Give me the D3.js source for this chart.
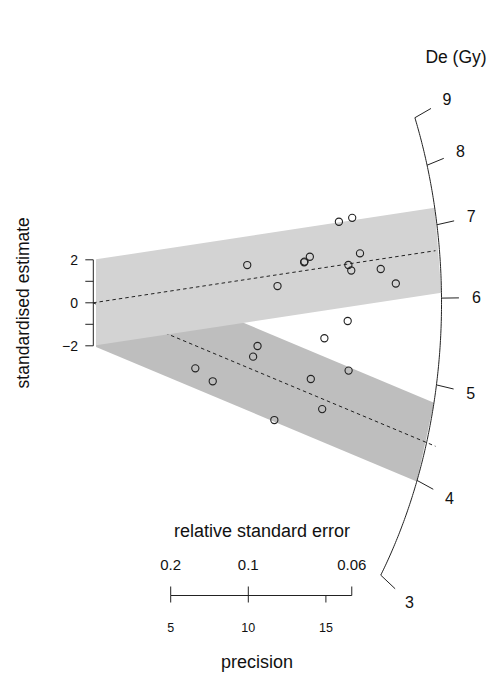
<!DOCTYPE html>
<html>
<head>
<meta charset="utf-8">
<script src="https://cdn.jsdelivr.net/npm/d3@7"></script>
<style>
  html, body { margin: 0; padding: 0; background: #fff; }
  svg { display: block; font-family: "Liberation Sans", Arial, Helvetica, sans-serif; }
</style>
</head>
<body>
<svg id="chart" width="499" height="675"></svg>
<script>
// ---------------- data ----------------
const centralDe = 5.942;              // De at standardised estimate 0
const groupCentralDe = [6.632, 4.391];
const de1 = [7.091, 6.345, 6.825, 6.839, 6.927, 7.539, 7.529, 6.793, 6.612, 6.504, 6.468, 6.222];
const se1 = [0.714, 0.534, 0.502, 0.502, 0.496, 0.476, 0.451, 0.395, 0.402, 0.391, 0.349, 0.319];
const de2 = [5.320, 5.643, 4.906, 4.615, 4.251, 3.725, 4.916, 4.661, 3.741, 3.700];
const se2 = [0.357, 0.344, 0.298, 0.329, 0.288, 0.319, 0.464, 0.452, 0.568, 0.480];
const deTicks = [3, 4, 5, 6, 7, 8, 9];
const rseTicks = [0.2, 0.1, 0.06];
const rseLabels = ["0.2", "0.1", "0.06"];
const precisionTicks = [5, 10, 15];
const yTicks = [-2, -1, 0, 1, 2];
const yTickLabels = [-2, 0, 2];

// ---------------- setup ----------------
const svg = d3.select("#chart");
const z0 = Math.log(centralDe);
const R = 22.45;          // radius of De axis (data units)
const bandStart = 0.19;   // precision where the 2-sigma bands start
const lineEnd = 22.06;    // precision where central lines end

const x = d3.scaleLinear().domain([0, 20]).range([93.1, 93.1 + 20 * 15.52]);
const y = d3.scaleLinear().domain([-2, 2]).range([345.8, 259.8]);

const slope = v => Math.log(v) - z0;
const onCircle = (v, r) => {
  const s = slope(v);
  const xx = r / Math.sqrt(1 + s * s);
  return [x(xx), y(s * xx)];
};
// intersection of y = s*x + c with circle radius R
function lineCircle(s, c) {
  const a = 1 + s * s, b = 2 * s * c, cc = c * c - R * R;
  const xx = (-b + Math.sqrt(b * b - 4 * a * cc)) / (2 * a);
  return [xx, s * xx + c];
}

const bandColors = ["#d3d3d3", "#bebebe"];

function band(i) {
  const s = slope(groupCentralDe[i]);
  const top = lineCircle(s, 2), bot = lineCircle(s, -2);
  const pts = [[bandStart, s * bandStart - 2], [bandStart, s * bandStart + 2], top, bot];
  svg.append("path")
    .attr("d", d3.line().x(d => x(d[0])).y(d => y(d[1]))(pts) + "Z")
    .attr("fill", bandColors[i]);
}
function centralLine(i) {
  const s = slope(groupCentralDe[i]);
  svg.append("line")
    .attr("x1", x(0)).attr("y1", y(0))
    .attr("x2", x(lineEnd)).attr("y2", y(s * lineEnd))
    .attr("stroke", "#222").attr("stroke-width", 1)
    .attr("stroke-dasharray", "3.5,3");
}

band(1);
centralLine(1);
band(0);
centralLine(0);

// ---------------- y axis ----------------
const yAxisX = 93.3;
svg.append("line").attr("x1", yAxisX).attr("x2", yAxisX)
  .attr("y1", y(-2)).attr("y2", y(2)).attr("stroke", "#222");
yTicks.forEach(t => {
  svg.append("line").attr("x1", yAxisX - 8).attr("x2", yAxisX)
    .attr("y1", y(t)).attr("y2", y(t)).attr("stroke", "#222");
});
yTickLabels.forEach(t => {
  svg.append("text").attr("x", 78).attr("y", y(t))
    .attr("text-anchor", "end").attr("dominant-baseline", "central")
    .attr("font-size", 14).attr("fill", "#111")
    .text(t < 0 ? "\u2212" + Math.abs(t) : String(t));
});
svg.append("text")
  .attr("transform", `translate(23, ${y(0)}) rotate(-90)`)
  .attr("text-anchor", "middle").attr("dominant-baseline", "central")
  .attr("font-size", 17.5).attr("fill", "#111")
  .text("standardised estimate");

// ---------------- bottom axes ----------------
const axY = 595.5;
svg.append("line").attr("x1", x(5)).attr("x2", x(1 / 0.06))
  .attr("y1", axY).attr("y2", axY).attr("stroke", "#222");
rseTicks.forEach((t, i) => {
  svg.append("line").attr("x1", x(1 / t)).attr("x2", x(1 / t))
    .attr("y1", axY - 9).attr("y2", axY).attr("stroke", "#222");
  svg.append("text").attr("x", x(1 / t)).attr("y", 564)
    .attr("text-anchor", "middle").attr("dominant-baseline", "central")
    .attr("font-size", 15).attr("fill", "#111").text(rseLabels[i]);
});
precisionTicks.forEach(t => {
  svg.append("line").attr("x1", x(t)).attr("x2", x(t))
    .attr("y1", axY).attr("y2", axY + 7).attr("stroke", "#222");
  svg.append("text").attr("x", x(t)).attr("y", 628)
    .attr("text-anchor", "middle").attr("dominant-baseline", "central")
    .attr("font-size", 12.5).attr("fill", "#111").text(t);
});
svg.append("text").attr("x", 262).attr("y", 531)
  .attr("text-anchor", "middle").attr("dominant-baseline", "central")
  .attr("font-size", 18).attr("fill", "#111").text("relative standard error");
svg.append("text").attr("x", 257).attr("y", 662)
  .attr("text-anchor", "middle").attr("dominant-baseline", "central")
  .attr("font-size", 18).attr("fill", "#111").text("precision");

// ---------------- De arc axis ----------------
const thMin = Math.atan(slope(d3.min(deTicks)));
const thMax = Math.atan(slope(d3.max(deTicks)));
const arcPts = d3.range(0, 201).map(k => {
  const th = thMin + (thMax - thMin) * k / 200;
  return [R * Math.cos(th), R * Math.sin(th)];
});
svg.append("path")
  .attr("d", d3.line().x(d => x(d[0])).y(d => y(d[1]))(arcPts))
  .attr("fill", "none").attr("stroke", "#222");
deTicks.forEach(v => {
  const a = onCircle(v, R), b = onCircle(v, R * 1.05), c = onCircle(v, R * 1.1);
  svg.append("line").attr("x1", a[0]).attr("y1", a[1]).attr("x2", b[0]).attr("y2", b[1])
    .attr("stroke", "#222");
  svg.append("text").attr("x", c[0]).attr("y", c[1])
    .attr("text-anchor", "middle").attr("dominant-baseline", "central")
    .attr("font-size", 16).attr("fill", "#111").text(v);
});
svg.append("text").attr("x", 456).attr("y", 57)
  .attr("text-anchor", "middle").attr("dominant-baseline", "central")
  .attr("font-size", 17.5).attr("fill", "#111").text("De (Gy)");

// ---------------- points ----------------
function pts(de, se) {
  return de.map((d, i) => {
    const p = d / se[i];
    return { p: p, s: (Math.log(d) - z0) * p };
  });
}
const allPts = pts(de1, se1).concat(pts(de2, se2));
svg.append("g").selectAll("circle").data(allPts).join("circle")
  .attr("cx", d => x(d.p)).attr("cy", d => y(d.s)).attr("r", 3.6)
  .attr("fill", "none").attr("stroke", "#222").attr("stroke-width", 1.1);
</script>
</body>
</html>
